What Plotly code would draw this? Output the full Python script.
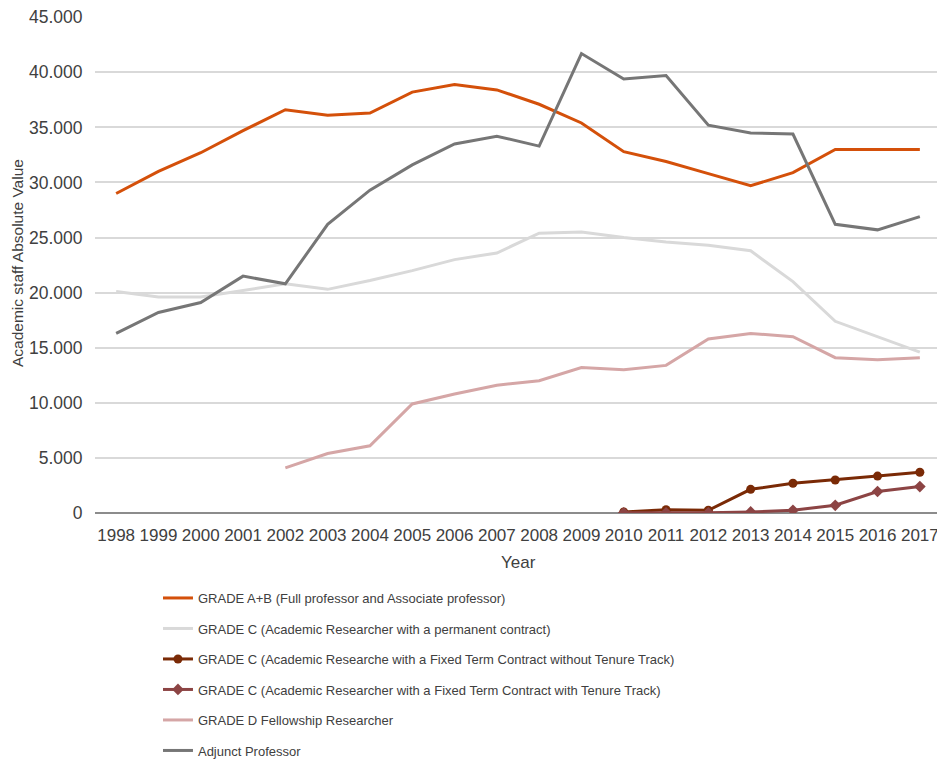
import plotly.graph_objects as go

years = [str(y) for y in range(1998, 2018)]

grade_ab = [29000, 31000, 32700, 34700, 36600, 36100, 36300, 38200, 38900, 38400,
            37100, 35400, 32800, 31900, 30800, 29700, 30900, 33000, 33000, 33000]
grade_c_perm = [20100, 19600, 19600, 20200, 20800, 20300, 21100, 22000, 23000, 23600,
                25400, 25500, 25000, 24600, 24300, 23800, 21000, 17400, 16000, 14600]
grade_c_fixed_no_tt = [None] * 12 + [100, 300, 250, 2150, 2700, 3000, 3350, 3700]
grade_c_fixed_tt = [None] * 12 + [20, 20, 20, 100, 250, 700, 1950, 2400]
grade_d = [None] * 4 + [4100, 5400, 6100, 9900, 10800, 11600, 12000, 13200, 13000, 13400,
                        15800, 16300, 16000, 14100, 13900, 14100]
adjunct = [16300, 18200, 19100, 21500, 20800, 26200, 29300, 31600, 33500, 34200,
           33300, 41700, 39400, 39700, 35200, 34500, 34400, 26200, 25700, 26900]

names = [
    "GRADE A+B (Full professor and Associate professor)",
    "GRADE C (Academic Researcher with a permanent contract)",
    "GRADE C (Academic Researche with a Fixed Term Contract without Tenure Track)",
    "GRADE C (Academic Researcher with a Fixed Term Contract with Tenure Track)",
    "GRADE D Fellowship Researcher",
    "Adjunct Professor",
]
series = [grade_ab, grade_c_perm, grade_c_fixed_no_tt, grade_c_fixed_tt, grade_d, adjunct]
colors = ["#D4500A", "#D9D9D9", "#7A2A06", "#8C4444", "#D5A6A6", "#767676"]
markers = [None, None, "circle", "diamond", None, None]

fig = go.Figure()
for i, (nm, vals, col, mk) in enumerate(zip(names, series, colors, markers)):
    kw = dict(mode="lines")
    if mk:
        kw = dict(mode="lines+markers", marker=dict(symbol=mk, size=9, color=col))
    fig.add_trace(go.Scatter(
        x=years, y=vals, name=nm, line=dict(color=col, width=3),
        legendgroup=str(i), connectgaps=False, **kw))

fig.update_layout(
    width=945, height=762,
    paper_bgcolor="white", plot_bgcolor="white",
    margin=dict(l=87, r=12, t=9, b=257, autoexpand=False),
    separators=",.",
    font=dict(family="Liberation Sans, Arial, sans-serif", size=14, color="#404040"),
    showlegend=True,
    legend=dict(
        xref="container", yref="container",
        x=0.1587, y=0.2454, xanchor="left", yanchor="top",
        orientation="v", tracegroupgap=10.6,
        font=dict(size=13, color="#404040"),
        bgcolor="rgba(0,0,0,0)",
    ),
    xaxis=dict(
        type="category", automargin=False, range=[-0.5, 19.5],
        showgrid=False, showline=False, ticks="outside", ticklen=7,
        tickcolor="rgba(0,0,0,0)", tickangle=0,
        tickfont=dict(size=17, color="#404040"),
    ),
    yaxis=dict(
        range=[0, 45020], dtick=5000, tickformat=",d", automargin=False,
        ticklabeloverflow="allow",
        showgrid=True, gridcolor="#D9D9D9", gridwidth=1.5,
        zeroline=True, zerolinecolor="#8C8C8C", zerolinewidth=1.5,
        tickfont=dict(size=17.5, color="#404040"),
        ticks="outside", ticklen=8, tickcolor="rgba(0,0,0,0)",
    ),
    annotations=[
        dict(text="Year", xref="paper", yref="paper", x=0.5, y=-0.0988,
             xanchor="center", yanchor="middle", showarrow=False,
             font=dict(size=17, color="#404040")),
        dict(text="Academic staff Absolute Value", xref="paper", yref="paper",
             x=-0.0922, y=0.504, xanchor="center", yanchor="middle",
             textangle=-90, showarrow=False,
             font=dict(size=15.5, color="#404040")),
    ],
)

fig.write_html("out.html")
